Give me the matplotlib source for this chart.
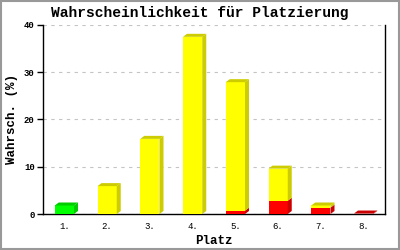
import matplotlib
matplotlib.use("Agg")
import matplotlib.pyplot as plt
from matplotlib.patches import Polygon, Rectangle

places = ['1.', '2.', '3.', '4.', '5.', '6.', '7.', '8.']
red_part = [0, 0, 0, 0, 0.7, 2.8, 1.35, 0.1]
yellow_part = [0, 5.9, 15.9, 37.5, 27.2, 6.8, 0.45, 0]
green_part = [1.8, 0, 0, 0, 0, 0, 0, 0]

series = [
    (red_part, '#ff0000', '#cc0000'),
    (yellow_part, '#ffff00', '#cccc00'),
    (green_part, '#00ff00', '#00cc00'),
]

mono = 'Liberation Mono'

fig = plt.figure(figsize=(4, 2.5), dpi=100)
ax = fig.add_axes([0.1075, 0.144, 0.855, 0.756])

x = list(range(1, len(places) + 1))
width = 0.45
ax.set_xlim(0.5, len(places) + 0.5)
ax.set_ylim(0, 40)

# pixel -> data for the 3d depth
ax_w = 0.855 * 400
ax_h = 0.756 * 250
ddx = 4 * (len(places)) / ax_w
ddy = 3 * 40 / ax_h

bottom = [0] * len(places)
for vals, col, dark in series:
    ax.bar(x, vals, width, bottom=bottom, color=col, zorder=3, linewidth=0)
    for i, v in enumerate(vals):
        if v <= 0:
            continue
        x1 = x[i] + width / 2
        y0 = bottom[i]
        y1 = bottom[i] + v
        ax.add_patch(Polygon([(x1, y0), (x1 + ddx, y0 + ddy), (x1 + ddx, y1 + ddy), (x1, y1)],
                             closed=True, color=dark, zorder=3, linewidth=0))
    bottom = [b + v for b, v in zip(bottom, vals)]

# top faces on the highest segment
for i in range(len(places)):
    top = bottom[i]
    dark = None
    for vals, col, d in series:
        if vals[i] > 0:
            dark = d
    x0 = x[i] - width / 2
    x1 = x[i] + width / 2
    ax.add_patch(Polygon([(x0, top), (x0 + ddx, top + ddy), (x1 + ddx, top + ddy), (x1, top)],
                         closed=True, color=dark, zorder=3, linewidth=0))

ax.set_yticks([0, 10, 20, 30, 40])
ax.yaxis.grid(True, linestyle=(0, (3, 4)), color='#c4c4c4', linewidth=0.8, zorder=0)
ax.set_xticks(x)
ax.set_xticklabels(places, fontfamily=mono, fontsize=6.5)
for lab in ax.get_yticklabels():
    lab.set_fontfamily(mono)
    lab.set_fontsize(6.5)
    lab.set_fontweight('bold')
ax.tick_params(axis='x', length=0, pad=6)
ax.tick_params(axis='y', length=4, width=1, pad=2)

ax.spines['top'].set_visible(False)
for s in ['left', 'right', 'bottom']:
    ax.spines[s].set_linewidth(1)

ax.set_xlabel('Platz', fontfamily=mono, fontweight='bold', fontsize=9, labelpad=3)
ax.set_ylabel('Wahrsch. (%)', fontfamily=mono, fontweight='bold', fontsize=9, labelpad=4)
fig.text(0.5, 0.946, 'Wahrscheinlichkeit für Platzierung', ha='center', va='center',
         fontfamily=mono, fontweight='bold', fontsize=10.5)

fig.patches.append(Rectangle((0.002, 0.003), 0.995, 0.993, transform=fig.transFigure,
                             fill=False, edgecolor='#999999', linewidth=1.5))

fig.savefig('out.png', dpi=100)
